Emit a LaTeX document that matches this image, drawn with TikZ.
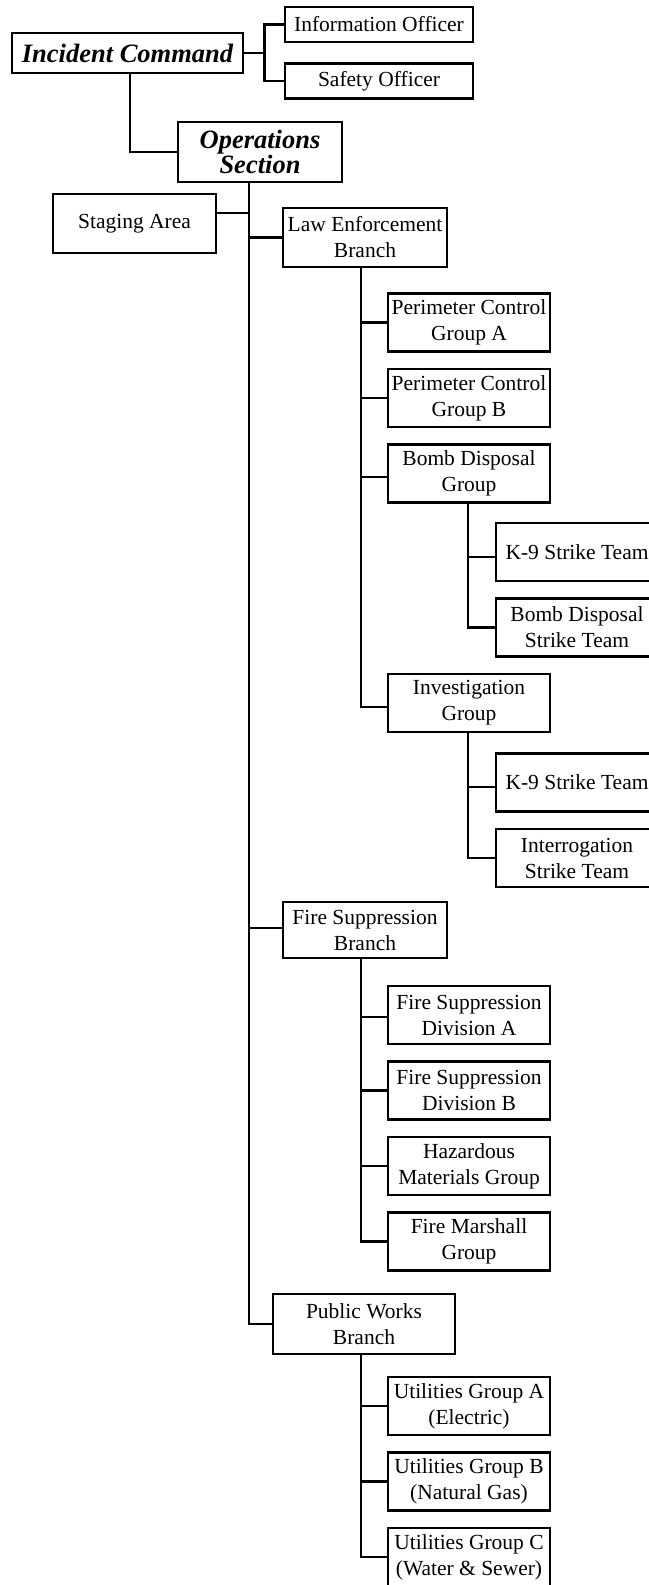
\documentclass[tikz,border=0pt]{standalone}
\usepackage{fontspec}
\setmainfont{Liberation Serif}
\usepackage{tikz}
\usetikzlibrary{positioning}

\tikzset{
  unit/.style={draw, line width=2.5pt, align=center, inner sep=1pt,
    minimum width=162pt, minimum height=58pt,
    font=\fontsize{21.5}{26}\selectfont},
  head/.style={unit, font=\fontsize{26.5}{25}\selectfont\bfseries\itshape},
  link/.style={line width=2.5pt}
}

\begin{document}
\begin{tikzpicture}[x=1pt, y=-1pt, node distance=75.5pt]
      \useasboundingbox (0,0) rectangle (648,1585);
      \node[head, minimum width=231pt, minimum height=40pt] (1) at (127.5,53) {Incident Command};
      \node[unit, right of=1, xshift=176pt, yshift=28.5pt, minimum width=188pt, minimum height=35pt] (2) {Information Officer};
      \node[unit, below of=2, yshift=19pt, minimum width=188pt, minimum height=35pt] (3) {Safety Officer};
      \node[head, below of=1, xshift=132.5pt, yshift=-23.5pt, minimum width=164pt, minimum height=60pt] (4) {Operations\\Section};
      \node[unit, below of=4, xshift=-125.5pt, yshift=4pt, minimum width=163pt, minimum height=59pt] (5) {Staging Area};
      \node[unit, below of=4, xshift=105pt, yshift=-10pt, minimum width=164pt, minimum height=59pt] (6) {Law Enforcement\\Branch};
      \node[unit, below of=6, xshift=104pt, yshift=-9.5pt] (7) {Perimeter Control\\Group A};
      \node[unit, below of=7] (8) {Perimeter Control\\Group B};
      \node[unit, below of=8] (9) {Bomb Disposal\\Group};
      \node[unit, below of=9, xshift=108pt, yshift=-3pt] (10) {K-9 Strike Team};
      \node[unit, below of=10] (11) {Bomb Disposal\\Strike Team};
      \node[unit, below of=11, xshift=-108pt] (12) {Investigation\\Group};
      \node[unit, below of=12, xshift=108pt, yshift=-4pt] (13) {K-9 Strike Team};
      \node[unit, below of=13] (14) {Interrogation\\Strike Team};
      \node[unit, below of=14, xshift=-212pt, yshift=3.5pt, minimum width=164pt, minimum height=56pt] (15) {Fire Suppression\\Branch};
      \node[unit, below of=15, xshift=104pt, yshift=-9.5pt] (16) {Fire Suppression\\Division A};
      \node[unit, below of=16] (17) {Fire Suppression\\Division B};
      \node[unit, below of=17] (18) {Hazardous\\Materials Group};
      \node[unit, below of=18] (19) {Fire Marshall\\Group};
      \node[unit, below of=19, xshift=-105pt, yshift=-7pt, minimum width=182pt, minimum height=60pt] (20) {Public Works\\Branch};
      \node[unit, below of=20, xshift=105pt, yshift=-6.5pt] (21) {Utilities Group A\\(Electric)};
      \node[unit, below of=21] (22) {Utilities Group B\\(Natural Gas)};
      \node[unit, below of=22] (23) {Utilities Group C\\(Water \& Sewer)};

      \draw[link] (1.east) -- ++(20,0) |- (2.west);
      \draw[link] (1.east) -- ++(20,0) |- (3.west);
      \draw[link] ([xshift=2.5pt]1.south) |- (4.west);
      \draw[link] ([xshift=-11pt]4.south) |- ([yshift=10.5pt]5.east);
      \draw[link] ([xshift=-11pt]4.south) |- (6.west);
      \draw[link] ([xshift=-11pt]4.south) |- ([yshift=2pt]15.west);
      \draw[link] ([xshift=-11pt]4.south) |- (20.west);
      \draw[link] ([xshift=-4pt]6.south) |- (7.west);
      \draw[link] ([xshift=-4pt]6.south) |- (8.west);
      \draw[link] ([xshift=-4pt]6.south) |- ([yshift=-3.5pt]9.west);
      \draw[link] ([xshift=-4pt]6.south) |- ([yshift=-4pt]12.west);
      \draw[link] ([xshift=-1pt]9.south) |- ([yshift=-5pt]10.west);
      \draw[link] ([xshift=-1pt]9.south) |- (11.west);
      \draw[link] ([xshift=-1pt]12.south) |- ([yshift=-4.5pt]13.west);
      \draw[link] ([xshift=-1pt]12.south) |- (14.west);
      \draw[link] ([xshift=-4pt]15.south) |- ([yshift=-2pt]16.west);
      \draw[link] ([xshift=-4pt]15.south) |- (17.west);
      \draw[link] ([xshift=-4pt]15.south) |- (18.west);
      \draw[link] ([xshift=-4pt]15.south) |- (19.west);
      \draw[link] ([xshift=-3pt]20.south) |- (21.west);
      \draw[link] ([xshift=-3pt]20.south) |- (22.west);
      \draw[link] ([xshift=-3pt]20.south) |- (23.west);
    \end{tikzpicture}
\end{document}
